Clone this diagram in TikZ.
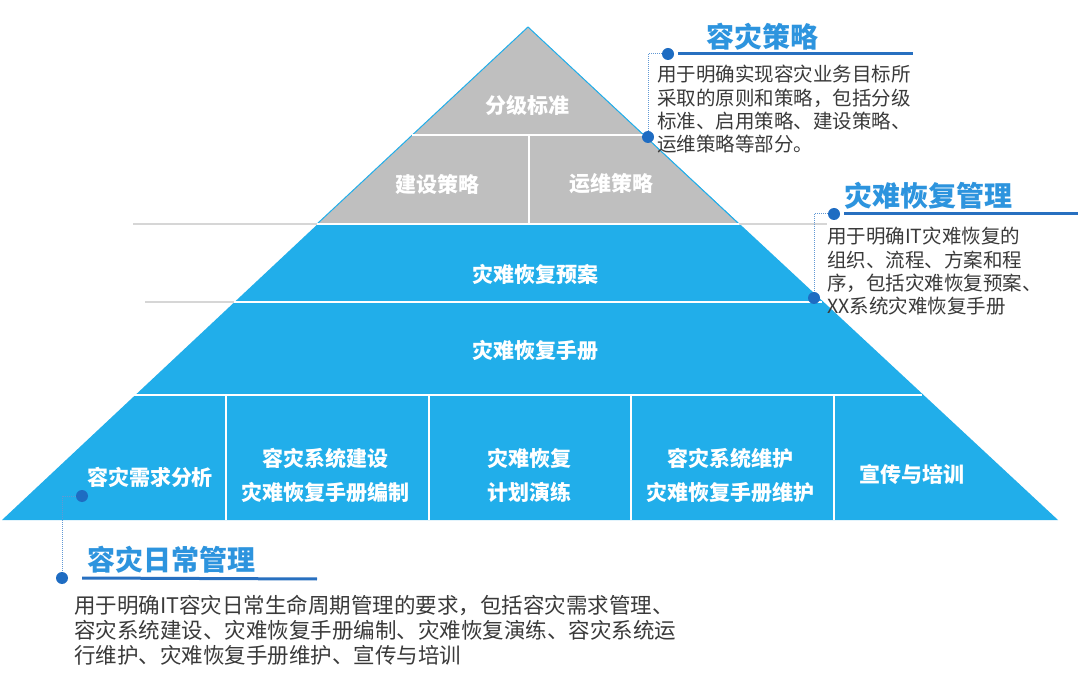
\documentclass[tikz,border=0pt]{standalone}
\usepackage{fontspec}
\setmainfont{Noto Sans CJK SC}
\usetikzlibrary{positioning, calc}
\definecolor{pyblue}{RGB}{33,174,234}
\definecolor{pygray}{RGB}{191,191,191}
\definecolor{titleblue}{RGB}{45,148,222}
\definecolor{barblue}{RGB}{40,112,192}
\definecolor{dotblue}{RGB}{30,108,194}
\definecolor{bodygray}{RGB}{58,58,58}
\definecolor{lightline}{RGB}{214,214,214}

\begin{document}
\begin{tikzpicture}[x=1pt, y=-1pt,
  lvl/.style={text=white, font=\bfseries\fontsize{21}{34}\selectfont, align=center, inner sep=0pt},
  sep/.style={white, line width=1.5pt},
  guide/.style={lightline, line width=2pt},
  dot/.style={circle, fill=dotblue, inner sep=0pt, minimum size=12pt},
  link/.style={dotblue!70, densely dotted, line width=1pt},
  bar/.style={barblue, line width=3pt},
  title/.style={text=titleblue, font=\bfseries\fontsize{28}{30}\selectfont, inner sep=0pt},
  body/.style={text=bodygray, align=left, inner sep=0pt, anchor=north west}]

  \useasboundingbox[fill=white] (0,0) rectangle (1080,676);

  % pyramid
  \coordinate (apex) at (528,27);
  \coordinate (bl) at (2,520);
  \coordinate (br) at (1058,520);
  \fill[pyblue] (apex) -- (bl) -- (br) -- cycle;
  \fill[pygray] (apex) -- (317,224) -- (739,224) -- cycle;
  \draw[pyblue, line width=1pt] (317,224) -- (apex) -- (739,224);

  % guide lines outside the pyramid
  \draw[guide] (133,224) -- (317,224);
  \draw[guide] (739,224) -- (827,224);
  \draw[guide] (145,302) -- (234,302);

  % separators
  \draw[sep] (412,135) -- (644,135);
  \draw[sep] (529,135) -- (529,224);
  \draw[sep] (317,224) -- (739,224);
  \draw[sep] (234,302) -- (822,302);
  \draw[sep] (134,395) -- (922,395);
  \foreach \x in {226,429,631,834}
    \draw[sep] (\x,395) -- (\x,520);

  % levels
  \node[lvl] (grade) at (527,105) {分级标准};
  \node[lvl] (build) at (437,184) {建设策略};
  \node[lvl] (ops) at (611,184) {运维策略};
  \node[lvl] (plan) at (535,274) {灾难恢复预案};
  \node[lvl] (manual) at (535,351) {灾难恢复手册};
  \node[lvl] (need) at (150,477) {容灾需求分析};
  \node[lvl] (sysbuild) at (325,475) {容灾系统建设\\灾难恢复手册编制};
  \node[lvl] (drill) at (529,475) {灾难恢复\\计划演练};
  \node[lvl] (sysmaint) at (730,475) {容灾系统维护\\灾难恢复手册维护};
  \node[lvl] (train) at (912,474) {宣传与培训};

  % callout: strategy
  \node[title] (t1) at (762,37) {容灾策略};
  \node[dot] (s1a) at (668,54) {};
  \node[dot] (s1b) at (648,137) {};
  \coordinate (s1end) at (913,54);
  \draw[link] (s1a) -| (s1b);
  \draw[bar] ([xshift=4pt]s1a.east) -- (s1end);
  \node[body, font=\fontsize{19.5}{23.3}\selectfont] (b1) at (657,65)
    {用于明确实现容灾业务目标所\\采取的原则和策略，包括分级\\标准、启用策略、建设策略、\\运维策略等部分。};

  % callout: recovery management
  \node[title] (t2) at (928,196) {灾难恢复管理};
  \node[dot] (s2a) at (834,214) {};
  \node[dot] (s2b) at (814,298) {};
  \coordinate (s2end) at (1078,214);
  \draw[link] (s2a) -| (s2b);
  \draw[bar] ([xshift=4pt]s2a.east) -- (s2end);
  \node[body, font=\fontsize{19.5}{23.3}\selectfont] (b2) at (827,227)
    {用于明确IT灾难恢复的\\组织、流程、方案和程\\序，包括灾难恢复预案、\\XX系统灾难恢复手册};

  % callout: daily management
  \node[title] (t3) at (171,560) {容灾日常管理};
  \node[dot] (s3a) at (82,496) {};
  \node[dot] (s3b) at (62,578) {};
  \coordinate (s3end) at (317,579);
  \draw[link] (s3a) -| (s3b);
  \draw[bar] ([xshift=14pt]s3b.east) -- (s3end);
  \node[body, font=\fontsize{21.5}{25}\selectfont] (b3) at (74,595)
    {用于明确IT容灾日常生命周期管理的要求，包括容灾需求管理、\\容灾系统建设、灾难恢复手册编制、灾难恢复演练、容灾系统运\\行维护、灾难恢复手册维护、宣传与培训};
\end{tikzpicture}
\end{document}
